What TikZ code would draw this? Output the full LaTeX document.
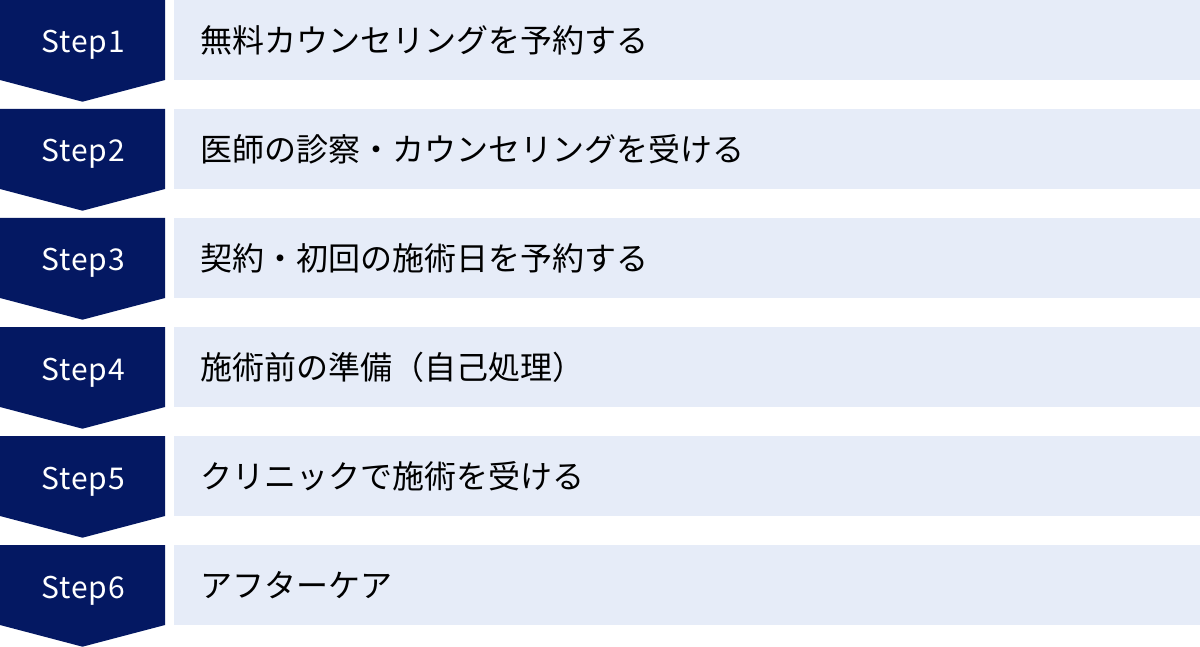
\documentclass[tikz,border=0pt]{standalone}
\usepackage{fontspec}
\newfontfamily\jpfont{Noto Sans CJK JP}
\newfontfamily\latfont[LetterSpace=3]{Noto Sans CJK JP}
\definecolor{navy}{HTML}{041862}
\definecolor{paleblue}{HTML}{E6ECF8}
\tikzset{
  steplabel/.style={text=white, font=\latfont\fontsize{30}{30}\selectfont, inner sep=0pt, anchor=base},
  desclabel/.style={text=black, font=\jpfont\fontsize{32}{32}\selectfont, inner sep=0pt, anchor=west},
}
\begin{document}
\begin{tikzpicture}[x=1pt,y=-1pt]
\useasboundingbox (0,0) rectangle (1200,647);
\foreach \i/\lab/\txt in {0/Step1/無料カウンセリングを予約する,
  1/Step2/医師の診察・カウンセリングを受ける,
  2/Step3/契約・初回の施術日を予約する,
  3/Step4/施術前の準備（自己処理）,
  4/Step5/クリニックで施術を受ける,
  5/Step6/アフターケア}{
  \pgfmathsetmacro{\t}{109*\i}
  \fill[navy] (0,\t) -- (165,\t) -- (165,\t+80) -- (82.5,\t+101.7) -- (0,\t+80) -- cycle;
  \fill[paleblue] (174,\t) rectangle (1200,\t+80);
  \node[steplabel] (s\i) at (83,\t+53) {\lab};
  \node[desclabel] (d\i) at (200,\t+40) {\txt};
}
\end{tikzpicture}
\end{document}
